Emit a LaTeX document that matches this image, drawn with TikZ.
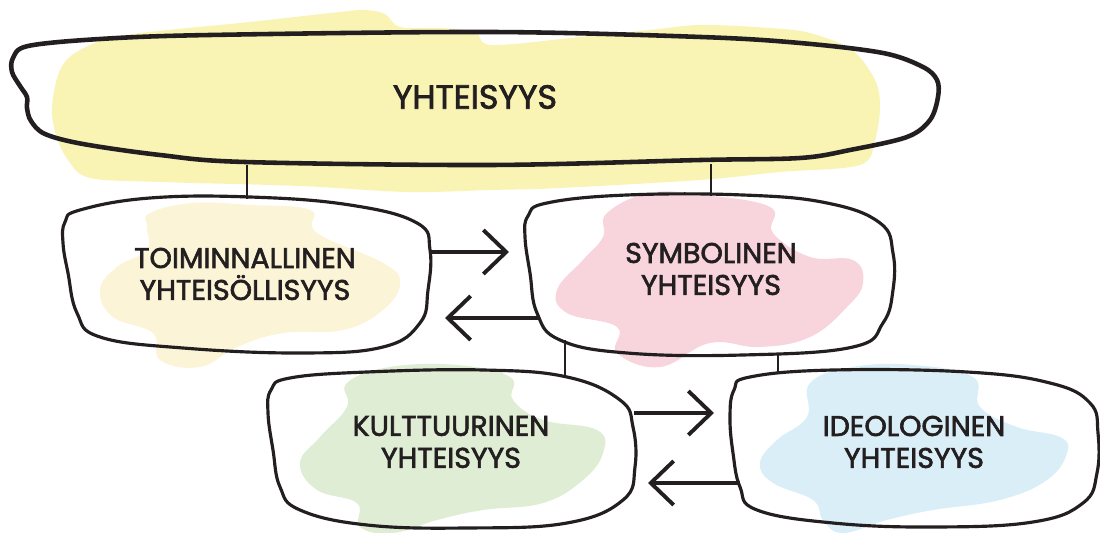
\documentclass[tikz,border=0pt]{standalone}
\usepackage{fontspec}
\setmainfont{Poppins}
\newfontfamily\lblfont{Poppins}[FakeBold=2.2]
\usetikzlibrary{arrows.meta}
\definecolor{ink}{HTML}{231F20}
\definecolor{ytop}{HTML}{FAF4B4}
\definecolor{ylt}{HTML}{FBF4D6}
\definecolor{bpink}{HTML}{F8D4DC}
\definecolor{bgreen}{HTML}{DEEDD4}
\definecolor{bblue}{HTML}{DAEEF8}
\tikzset{
  outline/.style={draw=ink, line width=1.8pt, line join=round},
  topline/.style={draw=ink, line width=2.6pt, line join=round},
  lbl/.style={font=\lblfont\fontsize{16.2}{18.2}\selectfont, align=center, text=ink, inner sep=0pt},
  toplbl/.style={font=\lblfont\fontsize{19}{22}\selectfont, align=center, text=ink, inner sep=0pt},
  link/.style={draw=ink, line width=1.1pt},
  arr/.style={draw=ink, line width=2.2pt, -{Straight Barb[length=13pt,width=25pt,line width=2.2pt]}},
  sm/.style={smooth cycle, tension=0.7},
  smt/.style={smooth cycle, tension=0.55}
}
\begin{document}
\begin{tikzpicture}[x=0.02cm, y=-0.02cm]
\useasboundingbox (0,0) rectangle (1100,533);
\fill[white] (0,0) rectangle (1100,533);
% blobs
\fill[ytop] plot[smt] coordinates {(52,107) (60,70) (80,50) (126,35) (250,22) (340,12) (365,10) (385,14) (400,27) (440,28) (475,32) (492,45) (580,37) (650,30) (701,25) (770,28) (810,33) (852,50) (875,80) (880,107) (875,140) (860,165) (780,172) (700,180) (560,188) (491,190) (407,192) (300,186) (161,182) (90,178) (68,160) (56,135)};
\fill[ylt] plot[sm] coordinates {(150,213) (193,203) (250,205) (310,210) (317,233) (383,263) (400,283) (383,310) (343,330) (283,333) (237,347) (200,367) (160,360) (153,333) (113,317) (100,290) (117,267) (147,250) (147,227)};
\fill[bpink] plot[sm] coordinates {(607,213) (650,193) (703,195) (770,207) (773,233) (810,257) (853,260) (863,283) (847,307) (810,337) (760,347) (710,343) (660,367) (617,353) (617,327) (567,313) (557,290) (583,260) (603,237)};
\fill[bgreen] plot[sm] coordinates {(347,383) (390,367) (457,365) (510,377) (513,400) (543,420) (597,430) (603,453) (583,480) (543,503) (483,510) (437,520) (393,533) (360,527) (357,503) (317,490) (300,463) (320,437) (347,407)};
\fill[bblue] plot[sm] coordinates {(810,383) (853,367) (913,365) (973,377) (980,407) (1017,427) (1060,437) (1067,453) (1047,480) (1000,500) (933,510) (887,520) (843,533) (823,520) (813,500) (773,483) (760,463) (777,440) (807,417)};
% connector endpoints
\coordinate (topL) at (247,165);
\coordinate (toimT) at (247,199);
\coordinate (topR) at (711,164);
\coordinate (symbT) at (711,196);
\coordinate (symbBL) at (565,340);
\coordinate (kultT) at (565,377);
\coordinate (symbBR) at (778,353);
\coordinate (ideoT) at (778,372);
\coordinate (toimR) at (430,252);
\coordinate (symbHead) at (509,252);
\coordinate (symbL) at (540,318);
\coordinate (toimHead) at (445,318);
\coordinate (kultR) at (634,413);
\coordinate (ideoHead) at (714,413);
\coordinate (ideoL) at (740,483);
\coordinate (kultHead) at (648,483);
% links
\draw[link] (topL) -- (toimT);
\draw[link] (topR) -- (symbT);
\draw[link] (symbBL) -- (kultT);
\draw[link] (symbBR) -- (ideoT);
% arrows
\draw[arr] (toimR) -- (symbHead);
\draw[arr] (symbL) -- (toimHead);
\draw[arr] (kultR) -- (ideoHead);
\draw[arr] (ideoL) -- (kultHead);
% outlines
\draw[topline] plot[smt] coordinates {(28,46) (13,58) (12,72) (20,86) (27,97) (27,108) (31,121) (45,134) (83,144) (160,155) (245,162) (491,165) (701,160) (800,158) (850,150) (907,137) (930,120) (938,97) (937,80) (923,67) (883,53) (800,43) (701,37) (491,32) (210,35) (100,39)};
\draw[outline] plot[sm] coordinates {(80,210) (150,198) (250,197) (350,205) (417,223) (430,250) (428,290) (420,323) (383,347) (300,353) (183,348) (100,337) (77,313) (68,273) (63,243) (65,222)};
\draw[outline] plot[sm] coordinates {(547,203) (627,195) (743,195) (827,203) (880,223) (893,253) (893,290) (883,323) (853,347) (743,355) (627,353) (560,340) (537,313) (530,273) (525,237) (528,216)};
\draw[outline] plot[sm] coordinates {(290,378) (367,372) (483,370) (567,377) (620,400) (633,427) (635,467) (623,500) (567,523) (467,528) (367,525) (300,510) (280,487) (273,450) (268,413) (271,390)};
\draw[outline] plot[sm] coordinates {(750,377) (833,370) (967,372) (1050,383) (1090,403) (1098,433) (1097,473) (1083,503) (1033,522) (933,527) (833,523) (757,510) (740,487) (733,453) (730,417) (734,390)};
% labels
\node[toplbl] (top) at (475,97) {YHTEISYYS};
\node[lbl] (toim) at (245,274) {TOIMINNALLINEN\\YHTEISÖLLISYYS};
\node[lbl] (symb) at (711,269) {SYMBOLINEN\\YHTEISYYS};
\node[lbl] (kult) at (451,442) {KULTTUURINEN\\YHTEISYYS};
\node[lbl] (ideo) at (914,442) {IDEOLOGINEN\\YHTEISYYS};
\end{tikzpicture}
\end{document}
